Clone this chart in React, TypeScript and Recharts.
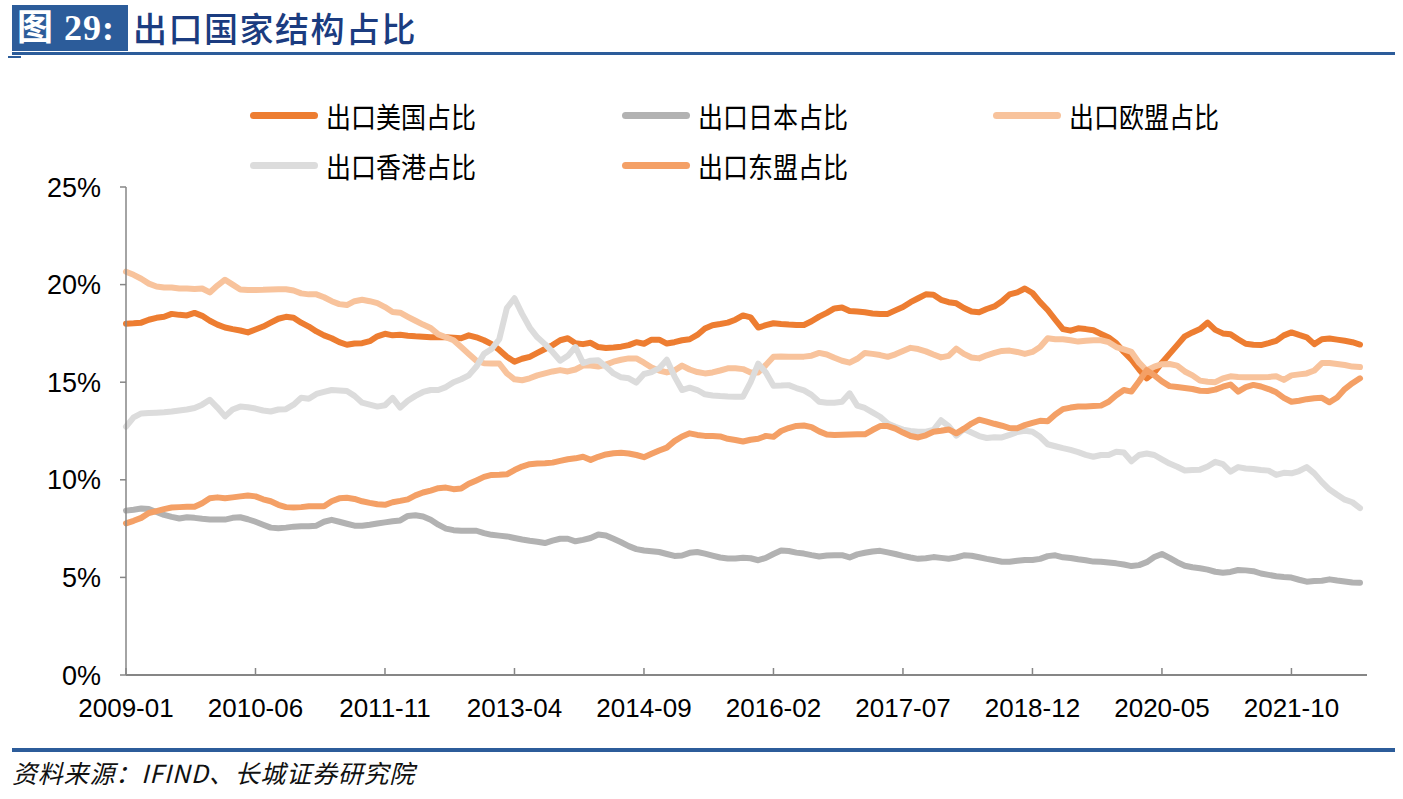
import React from "react";
import { LineChart, Line, XAxis, YAxis } from "recharts";

// monthly categories 2009-01 .. 2022-07
const MONTHS: string[] = [];
for (let i = 0; i < 163; i++) {
  const y = 2009 + Math.floor(i / 12);
  const m = (i % 12) + 1;
  MONTHS.push(`${y}-${String(m).padStart(2, "0")}`);
}

const X_TICKS = [
  "2009-01", "2010-06", "2011-11", "2013-04", "2014-09",
  "2016-02", "2017-07", "2018-12", "2020-05", "2021-10",
];
const Y_TICKS = [0, 5, 10, 15, 20, 25];

const USA = [
  18.0, 18.02, 18.05, 18.2, 18.3, 18.35, 18.5, 18.45, 18.42, 18.55,
  18.4, 18.15, 17.95, 17.8, 17.72, 17.65, 17.55, 17.7, 17.85, 18.05,
  18.25, 18.35, 18.3, 18.05, 17.85, 17.6, 17.4, 17.25, 17.05, 16.92,
  16.98, 17.0, 17.1, 17.35, 17.48, 17.4, 17.43, 17.38, 17.35, 17.33,
  17.3, 17.3, 17.3, 17.28, 17.25, 17.4, 17.3, 17.15, 16.95, 16.65,
  16.3, 16.05, 16.2, 16.3, 16.5, 16.7, 16.9, 17.15, 17.25, 17.0,
  16.95, 17.02, 16.8, 16.75, 16.78, 16.82, 16.9, 17.05, 16.97, 17.18,
  17.18, 16.98, 17.05, 17.15, 17.2, 17.42, 17.75, 17.92, 17.98, 18.05,
  18.2, 18.42, 18.32, 17.8, 17.92, 18.02, 17.98, 17.95, 17.93, 17.93,
  18.12, 18.36, 18.55, 18.78, 18.83, 18.65, 18.62, 18.58, 18.52, 18.49,
  18.5, 18.68, 18.85, 19.1, 19.3, 19.5, 19.48, 19.22, 19.1, 19.04,
  18.8, 18.62, 18.58, 18.75, 18.88, 19.15, 19.5, 19.6, 19.8, 19.57,
  19.1, 18.7, 18.2, 17.72, 17.64, 17.76, 17.72, 17.66, 17.47, 17.29,
  17.0, 16.55, 16.15, 15.65, 15.2, 15.5, 16.0, 16.45, 16.9, 17.35,
  17.55, 17.72, 18.05, 17.68, 17.5, 17.46, 17.2, 16.97, 16.92, 16.9,
  17.0, 17.12, 17.4, 17.55, 17.42, 17.3, 16.95, 17.2, 17.24, 17.18,
  17.12, 17.05, 16.93,
];

const JAPAN = [
  8.42, 8.47, 8.53, 8.5, 8.35, 8.2, 8.1, 8.02, 8.08, 8.05,
  8.0, 7.97, 7.96, 7.96, 8.05, 8.08, 7.98, 7.85, 7.7, 7.55,
  7.52, 7.55, 7.6, 7.62, 7.62, 7.65, 7.85, 7.95, 7.85, 7.75,
  7.65, 7.65, 7.7, 7.76, 7.82, 7.88, 7.92, 8.15, 8.18, 8.12,
  7.95, 7.7, 7.5, 7.42, 7.39, 7.39, 7.39, 7.27, 7.18, 7.14,
  7.1, 7.02, 6.94, 6.88, 6.83, 6.76, 6.88, 6.98, 6.98, 6.85,
  6.92, 7.02, 7.2, 7.15, 6.98, 6.8, 6.6, 6.45, 6.38, 6.34,
  6.3, 6.2, 6.1, 6.12, 6.26, 6.3, 6.22, 6.12, 6.02, 5.97,
  5.97, 6.01, 5.98, 5.88, 6.0, 6.2, 6.38, 6.35, 6.27, 6.22,
  6.14, 6.07, 6.12, 6.14, 6.14, 6.02, 6.18, 6.26, 6.33, 6.36,
  6.28, 6.2, 6.1, 6.02, 5.95, 5.98, 6.04, 6.0, 5.96, 6.02,
  6.13, 6.11, 6.03, 5.95, 5.88, 5.8, 5.8, 5.85, 5.89, 5.89,
  5.95, 6.09, 6.13, 6.03, 5.99, 5.93, 5.88, 5.81, 5.8, 5.76,
  5.72, 5.66, 5.58, 5.63, 5.78, 6.04, 6.2, 6.0, 5.78, 5.6,
  5.52, 5.47, 5.4, 5.29, 5.24, 5.28, 5.38, 5.36, 5.32, 5.2,
  5.13, 5.06, 5.02, 4.99, 4.88, 4.78, 4.82, 4.83, 4.9, 4.84,
  4.79, 4.74, 4.73,
];

const EU = [
  20.66, 20.5, 20.3, 20.05, 19.9, 19.85, 19.85, 19.8, 19.8, 19.78,
  19.8, 19.6, 19.95, 20.25, 20.0, 19.75, 19.72, 19.72, 19.73, 19.75,
  19.76, 19.76, 19.7, 19.55, 19.5, 19.5, 19.35, 19.15, 19.0, 18.95,
  19.15, 19.22, 19.15, 19.05, 18.85, 18.6, 18.56, 18.35, 18.15, 17.95,
  17.78, 17.45, 17.3, 17.15, 16.8, 16.45, 16.1, 15.97, 15.96, 15.96,
  15.45, 15.15, 15.1, 15.2, 15.35, 15.45, 15.55, 15.62, 15.55, 15.65,
  15.85, 15.85, 15.8, 15.9, 16.05, 16.15, 16.22, 16.22, 16.0, 15.75,
  15.6, 15.5, 15.6, 15.85, 15.65, 15.52, 15.45, 15.5, 15.6, 15.71,
  15.71, 15.67, 15.5, 15.5, 15.88, 16.3, 16.32, 16.31, 16.31, 16.31,
  16.36, 16.5, 16.42, 16.25, 16.1, 16.0, 16.2, 16.5, 16.45, 16.39,
  16.3, 16.43, 16.6, 16.76, 16.7, 16.58, 16.42, 16.27, 16.35, 16.72,
  16.45, 16.27, 16.22, 16.38, 16.5, 16.6, 16.62, 16.55, 16.45, 16.55,
  16.8, 17.25, 17.2, 17.2, 17.15, 17.08, 17.12, 17.15, 17.15, 17.05,
  16.8, 16.68, 16.55, 16.0, 15.6, 15.8, 15.92, 15.93, 15.85, 15.55,
  15.35, 15.08, 15.02, 15.0, 15.2, 15.3, 15.27, 15.25, 15.25, 15.25,
  15.27, 15.3, 15.12, 15.35, 15.4, 15.45, 15.6, 15.98, 15.98, 15.93,
  15.88, 15.8, 15.78,
];

const HONGKONG = [
  12.72, 13.2, 13.4, 13.42, 13.44, 13.46, 13.5, 13.55, 13.6, 13.68,
  13.85, 14.1, 13.7, 13.25, 13.6, 13.75, 13.72, 13.65, 13.55, 13.5,
  13.6, 13.62, 13.85, 14.2, 14.15, 14.4, 14.5, 14.6, 14.58, 14.55,
  14.3, 13.95, 13.85, 13.75, 13.82, 14.2, 13.7, 14.05, 14.3, 14.5,
  14.6, 14.6, 14.75, 15.0, 15.15, 15.35, 15.8, 16.45, 16.7, 17.2,
  18.8, 19.3, 18.5, 17.8, 17.3, 16.95, 16.55, 16.1, 16.35, 16.8,
  15.98, 16.1, 16.12, 15.8, 15.45, 15.25, 15.2, 14.98, 15.42, 15.52,
  15.72, 16.15, 15.3, 14.6, 14.72, 14.6, 14.38, 14.32, 14.29, 14.27,
  14.26, 14.26, 15.0, 15.95, 15.5, 14.82, 14.83, 14.85, 14.7, 14.58,
  14.35, 14.0, 13.95, 13.95, 14.0, 14.43, 13.8, 13.68, 13.45, 13.23,
  12.88, 12.72, 12.57, 12.5, 12.46, 12.46, 12.55, 13.05, 12.75, 12.26,
  12.6, 12.42, 12.24, 12.14, 12.18, 12.17, 12.3, 12.45, 12.51, 12.46,
  12.2, 11.82, 11.72, 11.62, 11.53, 11.42, 11.28, 11.18, 11.27, 11.27,
  11.44, 11.4, 10.95, 11.27, 11.35, 11.27, 11.05, 10.83, 10.67, 10.48,
  10.5, 10.52, 10.68, 10.92, 10.8, 10.42, 10.65, 10.58, 10.55, 10.5,
  10.47, 10.25, 10.36, 10.33, 10.45, 10.65, 10.33, 9.88, 9.5, 9.23,
  8.98, 8.85, 8.55,
];

const ASEAN = [
  7.77, 7.9, 8.05, 8.3, 8.4, 8.5, 8.58, 8.6, 8.62, 8.62,
  8.8, 9.05, 9.1, 9.05, 9.1, 9.15, 9.2, 9.15, 9.0, 8.9,
  8.72, 8.6, 8.58, 8.6, 8.65, 8.65, 8.65, 8.9, 9.05, 9.08,
  9.02, 8.9, 8.82, 8.75, 8.72, 8.85, 8.92, 9.0, 9.2, 9.35,
  9.45, 9.57, 9.6, 9.52, 9.55, 9.8, 9.97, 10.15, 10.25, 10.26,
  10.28, 10.5, 10.68, 10.8, 10.84, 10.85, 10.88, 10.97, 11.05, 11.1,
  11.18, 11.02, 11.18, 11.3, 11.36, 11.38, 11.35, 11.27, 11.16, 11.33,
  11.5, 11.65, 11.98, 12.22, 12.38, 12.3, 12.25, 12.24, 12.22, 12.1,
  12.04, 11.96, 12.05, 12.1, 12.25, 12.2, 12.5, 12.65, 12.76, 12.78,
  12.7, 12.48, 12.32, 12.3, 12.31, 12.32, 12.33, 12.33, 12.55, 12.75,
  12.75, 12.62, 12.42, 12.24, 12.17, 12.28, 12.46, 12.51, 12.58, 12.38,
  12.62, 12.88, 13.08, 12.98, 12.87, 12.77, 12.65, 12.64, 12.8, 12.92,
  13.02, 13.0, 13.35, 13.62, 13.7, 13.75, 13.75, 13.78, 13.8, 14.0,
  14.33, 14.6, 14.52, 15.05, 15.62, 15.35, 15.04, 14.8, 14.75, 14.7,
  14.65, 14.56, 14.55, 14.62, 14.77, 14.88, 14.52, 14.75, 14.86, 14.78,
  14.65, 14.48, 14.2, 14.0, 14.05, 14.13, 14.18, 14.2, 13.97, 14.22,
  14.65, 14.95, 15.2,
];

const SERIES = [
  { key: "usa", name: "出口美国占比", color: "#ED7D31", values: USA },
  { key: "japan", name: "出口日本占比", color: "#B2B2B2", values: JAPAN },
  { key: "eu", name: "出口欧盟占比", color: "#F8C39C", values: EU },
  { key: "hk", name: "出口香港占比", color: "#DCDCDC", values: HONGKONG },
  { key: "asean", name: "出口东盟占比", color: "#F4A066", values: ASEAN },
];

const chartData = MONTHS.map((month, i) => {
  const row: Record<string, any> = { month };
  SERIES.forEach((s) => {
    row[s.key] = s.values[i];
  });
  return row;
});

const AXIS_COLOR = "#868686";
const LATIN = "'Liberation Sans', Arial, sans-serif";
const CJK = "'Noto Sans CJK SC', 'Noto Sans', sans-serif";

function MonthTick({ x, y, payload }: any) {
  return (
    <g>
      <line x1={x} x2={x} y1={y} y2={y - 7} stroke={AXIS_COLOR} strokeWidth={1.5} />
      <text x={x} y={y + 42} textAnchor="middle" fontSize={26} fill="#000" fontFamily={LATIN}>
        {payload.value}
      </text>
    </g>
  );
}

const legendSpots = [
  [250, 115],
  [622, 115],
  [993, 115],
  [250, 165],
  [622, 165],
];

export default function App() {
  return (
    <div
      style={{
        position: "absolute",
        left: 0,
        top: 0,
        width: 1403,
        height: 799,
        background: "#fff",
        overflow: "hidden",
      }}
    >
      {/* header */}
      <div
        style={{
          position: "absolute",
          left: 12,
          top: 5,
          width: 116,
          height: 46,
          background: "#2C5C9A",
          color: "#fff",
          fontFamily: "'Liberation Serif', 'Noto Sans CJK SC', serif",
          fontWeight: 700,
          fontSize: 36,
          lineHeight: "46px",
          paddingLeft: 5,
          letterSpacing: 1,
          boxSizing: "border-box",
          whiteSpace: "nowrap",
        }}
      >
        图 29:
      </div>
      <div
        style={{
          position: "absolute",
          left: 133,
          top: 5,
          height: 46,
          lineHeight: "46px",
          fontFamily: CJK,
          fontWeight: 500,
          fontSize: 34,
          color: "#1B3C80",
          letterSpacing: 1.5,
          whiteSpace: "nowrap",
        }}
      >
        出口国家结构占比
      </div>
      <div style={{ position: "absolute", left: 12, top: 52, width: 1383, height: 3, background: "#2C5C9A" }} />
      <div style={{ position: "absolute", left: 8, top: 56, width: 13, height: 2, background: "#2C5C9A" }} />

      {/* legend */}
      {SERIES.map((s, i) => (
        <div
          key={s.key}
          style={{
            position: "absolute",
            left: legendSpots[i][0],
            top: legendSpots[i][1] - 20,
            height: 40,
            display: "flex",
            alignItems: "center",
            whiteSpace: "nowrap",
          }}
        >
          <div style={{ width: 68, height: 7, borderRadius: 4, background: s.color, marginRight: 8 }} />
          <span
            style={{
              fontFamily: CJK,
              fontSize: 25,
              color: "#000",
              display: "inline-block",
              transform: "scaleY(1.15)",
            }}
          >
            {s.name}
          </span>
        </div>
      ))}

      <div style={{ position: "absolute", left: 0, top: 0 }}>
        <LineChart
          width={1403}
          height={799}
          data={chartData}
          margin={{ top: 187, right: 36, left: 0, bottom: 74 }}
        >
          <XAxis
            dataKey="month"
            ticks={X_TICKS}
            interval={0}
            tick={<MonthTick />}
            tickLine={false}
            tickSize={0}
            tickMargin={0}
            height={50}
            padding={{ left: 0, right: 7 }}
            axisLine={{ stroke: AXIS_COLOR, strokeWidth: 2 }}
          />
          <YAxis
            type="number"
            domain={[0, 25]}
            ticks={Y_TICKS}
            width={126}
            tickSize={6}
            tickMargin={19}
            tickFormatter={(v: number) => `${v}%`}
            tick={{ fontSize: 27, fill: "#000", fontFamily: LATIN }}
            axisLine={{ stroke: AXIS_COLOR, strokeWidth: 1.5 }}
            tickLine={{ stroke: AXIS_COLOR, strokeWidth: 1.5 }}
          />
          {SERIES.map((s) => (
            <Line
              key={s.key}
              type="linear"
              dataKey={s.key}
              name={s.name}
              stroke={s.color}
              strokeWidth={6}
              strokeLinecap="round"
              strokeLinejoin="round"
              dot={false}
              activeDot={false}
              isAnimationActive={false}
            />
          ))}
        </LineChart>
      </div>

      {/* footer */}
      <div style={{ position: "absolute", left: 12, top: 748, width: 1383, height: 4, background: "#2C5C9A" }} />
      <div
        style={{
          position: "absolute",
          left: 12,
          top: 754,
          fontFamily: CJK,
          fontStyle: "italic",
          fontSize: 25,
          letterSpacing: 0.8,
          color: "#111",
          whiteSpace: "nowrap",
        }}
      >
        资料来源：IFIND、长城证券研究院
      </div>
    </div>
  );
}
